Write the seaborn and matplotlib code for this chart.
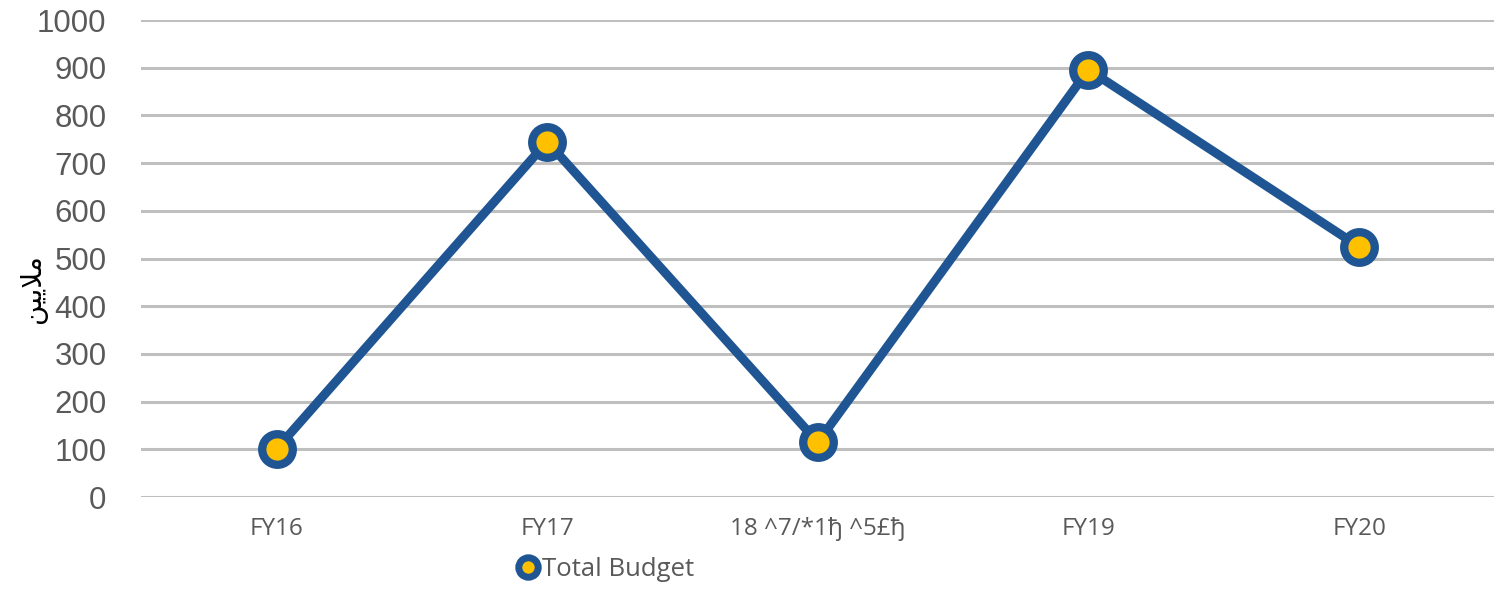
import matplotlib
matplotlib.use("Agg")
import matplotlib.pyplot as plt
import seaborn as sns
import pandas as pd

categories = ["FY16", "FY17", "FY18", "FY19", "FY20"]
tick_labels = ["FY16", "FY17", "18 ^7/*1ђ ^5£ђ", "FY19", "FY20"]
values = [101, 745, 115, 896, 525]
series_name = "Total Budget"
y_label = "\ufee6\ufef4\ufef3\ufefc\ufee3"  # ملايين (presentation forms, visual order)

sns.set_theme(style="white")
plt.rcParams['font.family'] = ['Liberation Sans', 'DejaVu Sans']

df = pd.DataFrame({"cat": categories, "val": values, "pos": range(len(categories))})

fig = plt.figure(figsize=(15.11, 5.89), dpi=100)
ax = fig.add_axes([0.0935, 0.156, 0.8955, 0.81])

blue = "#1F5593"
yellow = "#FFC000"
sns.lineplot(data=df, x="pos", y="val", ax=ax, color=blue, linewidth=6.5,
             marker="o", markersize=22, markerfacecolor=yellow,
             markeredgecolor=blue, markeredgewidth=6, label=series_name, legend=False)

ax.set_xlim(-0.5, len(categories) - 0.5)
ax.set_ylim(0, 1000)
ax.set_yticks(range(0, 1001, 100))
ax.set_xticks(range(len(categories)))
ax.set_xticklabels(tick_labels, fontsize=17.5, color="#595959", family=['Open Sans', 'DejaVu Sans'])
ax.tick_params(axis='y', labelsize=22.5, labelcolor="#595959", length=0, pad=25)
ax.tick_params(axis='x', length=0, pad=14)
ax.grid(axis='y', color="#BFBFBF", linewidth=2.2)
ax.set_axisbelow(True)
for s in ax.spines.values():
    s.set_visible(False)
ax.set_xlabel("")
ax.set_ylabel("")

fig.text(0.022, 0.51, y_label, rotation=90, fontsize=20, color="black",
         ha="center", va="center", family=['DejaVu Sans'])

handles, labels = ax.get_legend_handles_labels()
leg = fig.legend(handles=handles, labels=labels, loc="center", bbox_to_anchor=(0.402, 0.033),
                 frameon=False, handlelength=0.6, handletextpad=0.25,
                 prop={'family': ['Open Sans', 'DejaVu Sans'], 'size': 18.5})
for h in leg.legend_handles:
    h.set_linestyle('none')
    h.set_markersize(14)
    h.set_markeredgewidth(5)
for t in leg.get_texts():
    t.set_color("#595959")

fig.savefig("out.png", dpi=100)
